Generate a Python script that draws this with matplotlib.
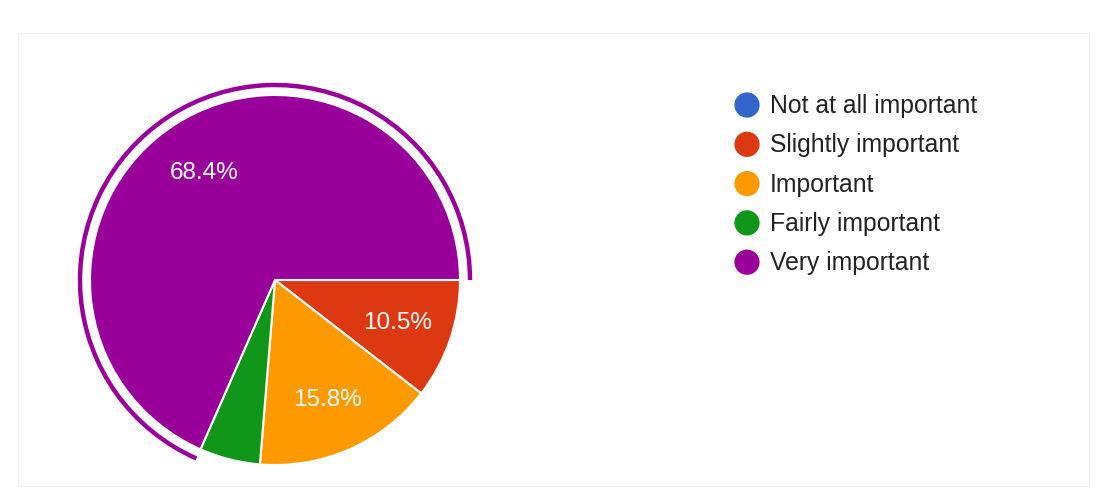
import matplotlib.pyplot as plt
from matplotlib.patches import Arc, Rectangle

categories = ["Not at all important", "Slightly important", "Important",
              "Fairly important", "Very important"]
shares = [0.0, 10.5, 15.8, 5.3, 68.4]
colors = ["#3366cc", "#dc3912", "#ff9900", "#109618", "#990099"]

W, H = 1102, 502
fig = plt.figure(figsize=(W / 100, H / 100), dpi=100)
ax = fig.add_axes([0, 0, 1, 1])
plt.rcParams['font.family'] = ['Liberation Sans', 'DejaVu Sans']

cx, cy, r = 275, H - 281, 185


def pct_label(p):
    return "%.1f%%" % p if p >= 6 else ""


wedges, texts, autotexts = ax.pie(
    shares, colors=colors, center=(cx, cy), radius=r,
    startangle=0, counterclock=False, autopct=pct_label, pctdistance=0.7,
    wedgeprops=dict(edgecolor="white", linewidth=1.5),
    textprops=dict(color="white", fontsize=17.5))

# highlight ring around the largest slice
total = sum(shares)
ax.add_patch(Arc((cx, cy), 2 * 195, 2 * 195, theta1=0,
                 theta2=360 * shares[-1] / total,
                 color=colors[-1], linewidth=3.2))

# legend
for i, (name, c) in enumerate(zip(categories, colors)):
    y = H - 106 - i * 39.3
    ax.scatter([747], [y], s=330, color=c, edgecolors="none")
    ax.text(770, y, name, fontsize=17.8, color="#222222", va="center")

# faint card border
ax.add_patch(Rectangle((18, H - 487), 1071, 453, fill=False,
                       edgecolor="#f0f0f0", linewidth=1))

ax.set_xlim(0, W)
ax.set_ylim(0, H)
ax.set_aspect("equal")
ax.axis("off")

fig.savefig("out.png", dpi=100, facecolor="white")
